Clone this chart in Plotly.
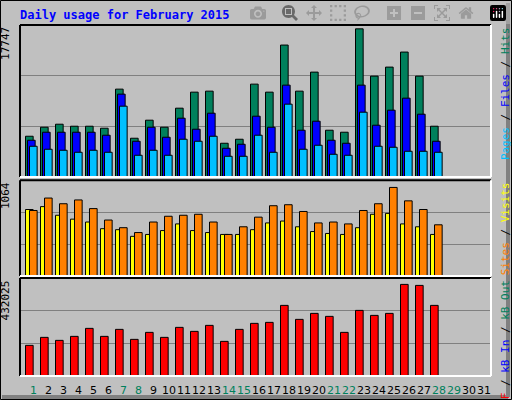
import plotly.graph_objects as go

days = list(range(1, 29))
hits = [4758,5811,6162,5928,5928,5694,10257,4524,6630,5811,8034,9906,10023,3939,4407,10842,9906,15405,10023,12246,5460,5226,17300,11778,12831,14586,11778,5928]
files = [4290,5226,5226,5226,5226,4875,9672,4173,5811,4641,6864,5577,7449,3354,3822,7098,5811,10725,5460,6513,4290,3939,10725,6045,7800,9204,7332,4173]
pages = [3588,3237,3120,2886,3120,2886,8268,2535,3120,2535,4407,4173,4758,2418,2418,4875,2886,8502,3237,3705,2652,2535,7566,3588,3471,3003,3003,2886]
visits = [738,770,674,631,599,525,514,440,461,504,578,504,482,461,461,514,589,610,546,493,472,461,536,685,695,578,546,461]
sites = [727,865,802,844,748,621,536,482,599,663,674,685,599,461,546,653,780,791,716,589,599,578,727,802,983,834,738,568]
kbytes = [135194,170462,157237,174871,210139,174871,205730,161645,192505,170462,214547,196913,223364,152828,205730,232181,236590,311534,249815,276266,263041,192505,289491,267449,276266,404113,399704,311534]
max_hits, max_sites, max_kb = 17747, 1064, 432025
day_labels = [str(d) for d in range(1, 32)]
weekend_days = [1, 7, 8, 14, 15, 21, 22, 28, 29]

GREEN, BLUE, CYAN, YEL, ORG, RED = "#00805C", "#0000FF", "#00C0FF", "#FFFF00", "#FF8000", "#FF0000"
fig = go.Figure()
W = 0.51
def bars(y, color, off, ax):
    fig.add_trace(go.Bar(x=days, y=y, width=W, offset=off, marker=dict(color=color, line=dict(color="black", width=1)),
                         xaxis="x" if ax == "y" else "x" + ax[1:], yaxis=ax))
bars(hits, GREEN, -0.533, "y")
bars(files, BLUE, -0.40, "y")
bars(pages, CYAN, -0.267, "y")
bars(visits, YEL, -0.533, "y2")
bars(sites, ORG, -0.267, "y2")
bars(kbytes, RED, -0.533, "y3")

xr = [0.1, 31.5]
common_x = dict(range=xr, showticklabels=False, showgrid=False, zeroline=False, fixedrange=True)
def yax(dom, top, anchor):
    return dict(domain=dom, range=[0, top], tickvals=[top / 3, 2 * top / 3], showticklabels=False,
                gridcolor="#808080", gridwidth=1, zeroline=False, anchor=anchor)
fig.update_layout(
    width=512, height=400, margin=dict(l=20, r=21, t=25, b=24),
    paper_bgcolor="#C0C0C0", plot_bgcolor="#C0C0C0", showlegend=False, barmode="overlay",
    xaxis=dict(common_x, anchor="y"), xaxis2=dict(common_x, anchor="y2"), xaxis3=dict(common_x, anchor="y3"),
    yaxis=yax([0.567, 1], max_hits, "x"), yaxis2=yax([0.285, 0.558], max_sites, "x2"), yaxis3=yax([0, 0.279], max_kb, "x3"),
    font=dict(family="DejaVu Sans Mono", size=11),
)
ann = []
ann.append(dict(text="<b>Daily usage for February 2015</b>", x=-0.005, y=1.028, xref="paper", yref="paper", showarrow=False,
                xanchor="left", yanchor="middle", font=dict(color=BLUE, size=12, family="DejaVu Sans Mono")))
for i, lab in enumerate(day_labels):
    d = i + 1
    ann.append(dict(text=lab, x=d, y=-0.04, xref="x3", yref="paper", showarrow=False, yanchor="middle",
                    font=dict(color=GREEN if d in weekend_days else "black", size=11, family="DejaVu Sans")))
for lab, yy in [(str(max_hits), 1.0), (str(max_sites), 0.558), (str(max_kb), 0.279)]:
    ann.append(dict(text=lab, x=-0.013, y=yy, xref="paper", yref="paper", showarrow=False, textangle=-90,
                    xanchor="right", yanchor="top", font=dict(size=11, color="black")))
def sl(*parts):
    return " / ".join(f'<span style="color:{c}">{t}</span>' for t, c in parts)
for txt, yy in [(sl(("Pages", CYAN), ("Files", BLUE), ("Hits", GREEN)), 1.0),
                (sl(("Sites", ORG), ("Visits", YEL)), 0.558),
                (sl(("kB F", RED), ("kB In", BLUE), ("kB Out", GREEN)), 0.279)]:
    ann.append(dict(text=txt, x=1.013, y=yy, xref="paper", yref="paper", showarrow=False, textangle=-90,
                    xanchor="left", yanchor="top", font=dict(size=11, color="black")))
fig.update_layout(annotations=ann)

shapes = []
for y0, y1 in [(0.567, 1), (0.285, 0.558), (0, 0.279)]:
    shapes.append(dict(type="line", xref="paper", yref="paper", x0=0, x1=1, y0=y1, y1=y1, line=dict(color="black", width=2)))
    shapes.append(dict(type="line", xref="paper", yref="paper", x0=0, x1=0, y0=y0, y1=y1, line=dict(color="black", width=2)))
    shapes.append(dict(type="line", xref="paper", yref="paper", x0=0, x1=1, y0=y0, y1=y0, line=dict(color="white", width=2)))
    shapes.append(dict(type="line", xref="paper", yref="paper", x0=1, x1=1, y0=y0, y1=y1, line=dict(color="white", width=2)))
shapes.append(dict(type="rect", xref="paper", yref="paper", x0=-19.5/471, x1=1+20.5/471, y0=-23.5/351, y1=1+24.5/351,
                   line=dict(color="black", width=1)))
shapes.append(dict(type="line", xref="paper", yref="paper", x0=1+17/471, x1=1+17/471, y0=-21/351, y1=1+22/351,
                   line=dict(color="#808080", width=4)))
shapes.append(dict(type="line", xref="paper", yref="paper", x0=-18/471, x1=1+17/471, y0=-21/351, y1=-21/351,
                   line=dict(color="#808080", width=4)))
fig.update_layout(shapes=shapes)
fig.write_html("out.html", post_script="document.body.style.margin='0';document.body.style.overflow='hidden';")
